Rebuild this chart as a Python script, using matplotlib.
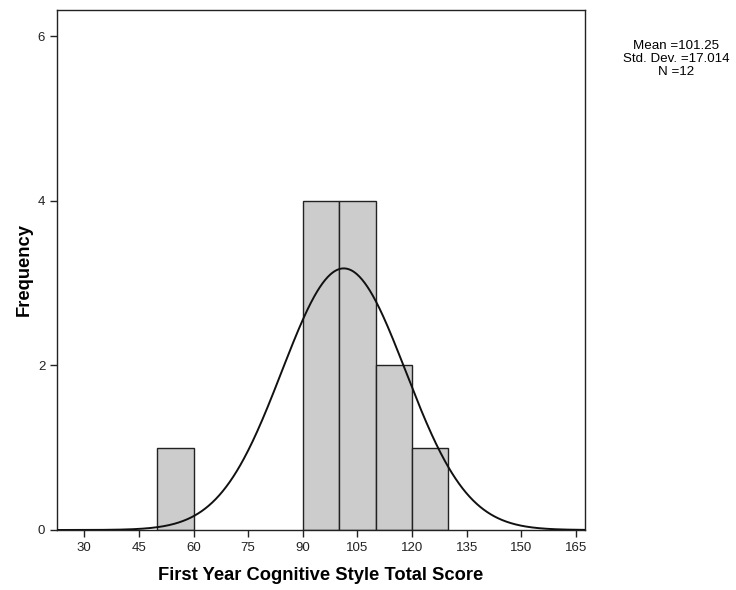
import numpy as np
import matplotlib.pyplot as plt

plt.rcParams['font.family'] = ['Liberation Sans', 'DejaVu Sans']

# histogram bins (left edges) and counts
bin_left = [50, 90, 100, 110, 120]
counts = [1, 4, 4, 2, 1]
bin_width = 10

mean = 101.25
sd = 17.014
n = 12
curve_scale = 135.6  # area scale so the curve peaks near 3.2

xticks = [30, 45, 60, 75, 90, 105, 120, 135, 150, 165]
yticks = [0, 2, 4, 6]

fig = plt.figure(figsize=(7.36, 5.9), dpi=100)
ax = fig.add_axes([57/736, 60/590, 528/736, 520/590])

ax.bar(bin_left, counts, width=bin_width, align='edge',
       color='#cccccc', edgecolor='#222222', linewidth=1.0, zorder=2)

xs = np.linspace(22.5, 167.5, 600)
ys = curve_scale / (sd * np.sqrt(2 * np.pi)) * np.exp(-0.5 * ((xs - mean) / sd) ** 2)
ax.plot(xs, ys, color='#111111', linewidth=1.4, zorder=3)

ax.set_xlim(22.5, 167.5)
ax.set_ylim(0, 6.32)
ax.set_xticks(xticks)
ax.set_yticks(yticks)
ax.tick_params(direction='out', length=5, width=1, labelsize=9.5, colors='#222222')
for s in ax.spines.values():
    s.set_linewidth(1.0)
    s.set_color('#222222')

ax.set_xlabel('First Year Cognitive Style Total Score', fontsize=13.2,
              fontweight='bold', labelpad=9.5)
ax.set_ylabel('Frequency', fontsize=13.2, fontweight='bold', labelpad=4)

fig.text(676/736, 1 - 59/590,
         'Mean =%.2f\nStd. Dev. =%.3f\nN =%d' % (mean, sd, n),
         ha='center', va='center', fontsize=9.6, linespacing=1.1)

fig.savefig('out.png', dpi=100)
